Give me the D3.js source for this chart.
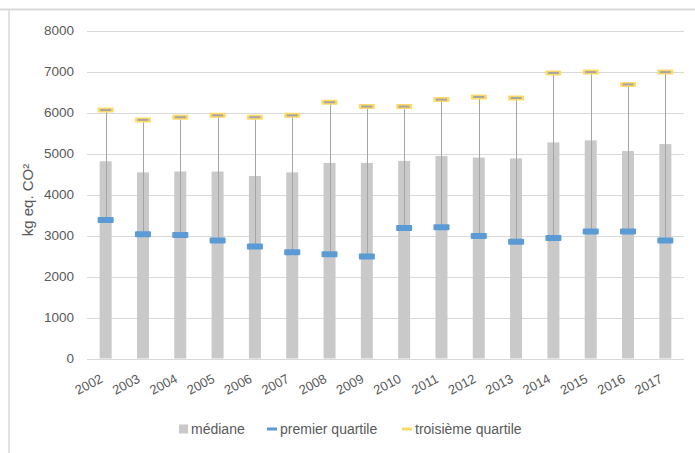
<!DOCTYPE html>
<html>
<head>
<meta charset="utf-8">
<script src="https://cdn.jsdelivr.net/npm/d3@7"></script>
<style>
  html, body { margin: 0; padding: 0; background: #fff; }
  svg { display: block; font-family: "Liberation Sans", Arial, sans-serif; }
</style>
</head>
<body>
<svg id="chart" width="695" height="453"></svg>
<script>
const years = ["2002","2003","2004","2005","2006","2007","2008","2009","2010","2011","2012","2013","2014","2015","2016","2017"];
const mediane = [4810,4540,4560,4560,4450,4540,4770,4770,4820,4940,4900,4880,5270,5320,5060,5230];
const premierQuartile = [3380,3030,3010,2880,2730,2590,2540,2490,3180,3200,2990,2850,2940,3100,3100,2880];
const troisiemeQuartile = [6060,5820,5885,5930,5885,5930,6250,6145,6145,6315,6380,6355,6965,6985,6685,6985];
const yTicks = [0,1000,2000,3000,4000,5000,6000,7000,8000];
const legendLabels = ["médiane","premier quartile","troisième quartile"];

const svg = d3.select("#chart");
const W = 695, H = 453;
const plotLeft = 87, plotRight = 684, plotTop = 30.5, plotBottom = 358.5;

// frame
svg.append("line").attr("x1", 0).attr("x2", W).attr("y1", 9.5).attr("y2", 9.5)
  .attr("stroke", "#d9d9d9").attr("stroke-width", 2);
svg.append("line").attr("x1", 9).attr("x2", 9).attr("y1", 9).attr("y2", H)
  .attr("stroke", "#d9d9d9").attr("stroke-width", 1.5);

const x = d3.scaleBand().domain(years).range([plotLeft, plotRight]);
const y = d3.scaleLinear().domain([0, 8000]).range([plotBottom, plotTop]);

// gridlines
svg.append("g").selectAll("line").data(yTicks).join("line")
  .attr("x1", plotLeft).attr("x2", plotRight)
  .attr("y1", d => Math.round(y(d)) + 0.5).attr("y2", d => Math.round(y(d)) + 0.5)
  .attr("stroke", "#d9d9d9").attr("stroke-width", 1);

// y axis labels
const yAxis = d3.axisLeft(y).tickValues(yTicks).tickFormat(d3.format("d")).tickSize(0).tickPadding(0);
const yg = svg.append("g").attr("transform", `translate(74,0)`).call(yAxis);
yg.select(".domain").remove();
yg.selectAll("text").attr("fill", "#595959").style("font-size", "13.5px")
  .style("font-family", '"Liberation Sans", Arial, sans-serif');

// y title
svg.append("text")
  .attr("transform", `translate(33,200) rotate(-90)`)
  .attr("text-anchor", "middle")
  .attr("fill", "#595959").style("font-size", "15px")
  .text("kg eq. CO²");

// bars
const barW = 12;
svg.append("g").selectAll("rect").data(years).join("rect")
  .attr("x", d => x(d) + x.bandwidth() / 2 - barW / 2)
  .attr("width", barW)
  .attr("y", (d, i) => y(mediane[i]))
  .attr("height", (d, i) => y(0) - y(mediane[i]))
  .attr("fill", "#c9c9c9");

// high-low lines
svg.append("g").selectAll("line").data(years).join("line")
  .attr("x1", d => Math.round(x(d) + x.bandwidth() / 2) + 0.5)
  .attr("x2", d => Math.round(x(d) + x.bandwidth() / 2) + 0.5)
  .attr("y1", (d, i) => y(troisiemeQuartile[i]))
  .attr("y2", (d, i) => y(premierQuartile[i]))
  .attr("stroke", "#a5a5a5").attr("stroke-width", 1);

// Q1 markers
const mW = 16;
svg.append("g").selectAll("rect").data(years).join("rect")
  .attr("x", d => x(d) + x.bandwidth() / 2 - mW / 2)
  .attr("width", mW)
  .attr("y", (d, i) => y(premierQuartile[i]) - 3)
  .attr("height", 6)
  .attr("rx", 1)
  .attr("fill", "#5b9bd5");

// Q3 markers
const q3 = svg.append("g");
q3.selectAll("rect.o").data(years).join("rect").attr("class", "o")
  .attr("x", d => x(d) + x.bandwidth() / 2 - mW / 2)
  .attr("width", mW)
  .attr("y", (d, i) => y(troisiemeQuartile[i]) - 2.5)
  .attr("height", 5)
  .attr("rx", 1)
  .attr("fill", "#ffd966");
q3.selectAll("rect.i").data(years).join("rect").attr("class", "i")
  .attr("x", d => x(d) + x.bandwidth() / 2 - 5.5)
  .attr("width", 11)
  .attr("y", (d, i) => y(troisiemeQuartile[i]) - 1)
  .attr("height", 2)
  .attr("fill", "#a5a5a5");

// x axis labels
const xAxis = d3.axisBottom(x).tickSize(0).tickPadding(0);
const xg = svg.append("g").attr("transform", `translate(0,${plotBottom})`).call(xAxis);
xg.select(".domain").remove();
xg.selectAll("text")
  .attr("fill", "#595959").style("font-size", "13px")
  .style("font-family", '"Liberation Sans", Arial, sans-serif')
  .attr("text-anchor", "end")
  .attr("y", 0)
  .attr("dy", 0)
  .attr("transform", "translate(-2,23) rotate(-28)");

// legend
const lg = svg.append("g").style("font-size", "14px").attr("fill", "#595959");
lg.append("rect").attr("x", 179).attr("y", 424.5).attr("width", 9).attr("height", 9).attr("fill", "#c9c9c9");
lg.append("text").attr("x", 191).attr("y", 434).text(legendLabels[0]);
lg.append("rect").attr("x", 267).attr("y", 427.5).attr("width", 10).attr("height", 3).attr("fill", "#5b9bd5");
lg.append("text").attr("x", 280).attr("y", 434).text(legendLabels[1]);
lg.append("rect").attr("x", 402).attr("y", 427.5).attr("width", 10).attr("height", 3).attr("fill", "#ffd966");
lg.append("text").attr("x", 415).attr("y", 434).text(legendLabels[2]);
</script>
</body>
</html>
